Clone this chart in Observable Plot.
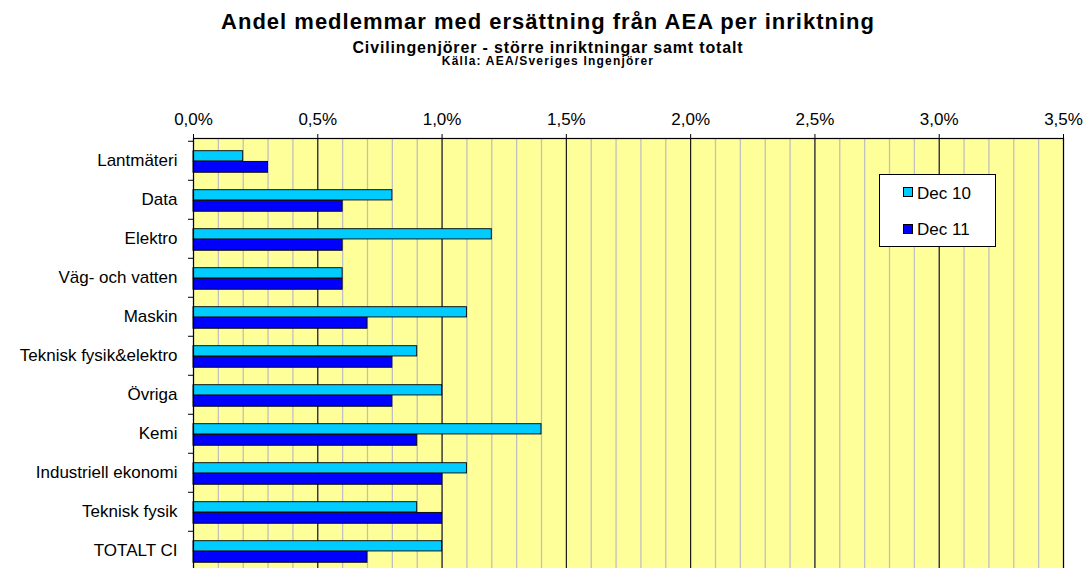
<!DOCTYPE html>
<html>
<head>
<meta charset="utf-8">
<script src="https://cdn.jsdelivr.net/npm/d3@7"></script>
<script src="https://cdn.jsdelivr.net/npm/@observablehq/plot@0.6"></script>
<style>
  html, body { margin: 0; padding: 0; background: #fff; overflow: hidden; }
  body { font-family: "Liberation Sans", Arial, sans-serif; width: 1085px; height: 568px; position: relative; }
  .hdr { position: absolute; left: 0; width: 1094px; text-align: center; font-weight: bold; color: #000; white-space: nowrap; line-height: 1; }
  #t1 { top: 11px; font-size: 22px; letter-spacing: 1px; padding-left: 1px; }
  #t2 { top: 40px; font-size: 16px; letter-spacing: 0.85px; padding-left: 1px; }
  #t3 { top: 55px; font-size: 12px; letter-spacing: 1.2px; padding-left: 1px; }
  #chart { position: absolute; left: 0; top: 64px; }
  #legend { position: absolute; left: 879px; top: 174px; width: 115px; height: 71px; border: 1px solid #000; background: #fff; }
  .li { position: absolute; left: 37px; font-size: 17px; line-height: 17px; color: #000; white-space: nowrap; }
  .sw { position: absolute; left: 23px; width: 8px; height: 8px; border: 1px solid #000; }
</style>
</head>
<body>
<div class="hdr" id="t1">Andel medlemmar med ersättning från AEA per inriktning</div>
<div class="hdr" id="t2">Civilingenjörer - större inriktningar samt totalt</div>
<div class="hdr" id="t3">Källa: AEA/Sveriges Ingenjörer</div>
<div id="chart"></div>
<div id="legend"></div>
<script>
const categories = ["Lantmäteri", "Data", "Elektro", "Väg- och vatten", "Maskin", "Teknisk fysik&elektro", "Övriga", "Kemi", "Industriell ekonomi", "Teknisk fysik", "TOTALT CI"];
const seriesNames = ["Dec 10", "Dec 11"];
const dec10 = [0.002, 0.008, 0.012, 0.006, 0.011, 0.009, 0.010, 0.014, 0.011, 0.009, 0.010];
const dec11 = [0.003, 0.006, 0.006, 0.006, 0.007, 0.008, 0.008, 0.009, 0.010, 0.010, 0.007];
const majorTicks = [0, 0.005, 0.010, 0.015, 0.020, 0.025, 0.030, 0.035];
const minorTicks = d3.range(0, 36).map(i => i / 1000);
const colors = ["#00CCFF", "#0000FF"];

const d10 = categories.map((c, i) => ({cat: c, v: dec10[i]}));
const d11 = categories.map((c, i) => ({cat: c, v: dec11[i]}));

const H = 520, MT = 74, MB = 12;
const bw = (H - MT - MB) / categories.length;
const fmt = d => (d * 100).toFixed(1).replace(".", ",") + "%";

const chart = Plot.plot({
  width: 1085,
  height: H,
  marginTop: MT,
  marginBottom: MB,
  marginLeft: 193,
  marginRight: 22,
  style: {fontFamily: "'Liberation Sans', Arial, sans-serif", fontSize: "17px", color: "#000", background: "transparent"},
  x: {domain: [0, 0.035], axis: null},
  y: {domain: categories, padding: 0, axis: null},
  marks: [
    Plot.frame({fill: "#FFFF99"}),
    Plot.ruleX(minorTicks, {stroke: "#c0c0c0", strokeWidth: 1.3}),
    Plot.ruleX(majorTicks, {stroke: "#000", strokeWidth: 1}),
    Plot.barX(d10, {x: "v", y: "cat", fill: colors[0], stroke: "#000", strokeWidth: 0.9, insetTop: 9.7, insetBottom: bw - 20.4}),
    Plot.barX(d11, {x: "v", y: "cat", fill: colors[1], stroke: "#000", strokeWidth: 0.9, insetTop: 20.4, insetBottom: bw - 31.7}),
    Plot.frame({stroke: "#000", strokeWidth: 1.2}),
    Plot.ruleY(categories, {y: d => d, x1: 0, x2: 0, insetLeft: -5, stroke: "#000", dy: -bw / 2}),
    Plot.axisX(majorTicks, {anchor: "top", tickSize: 5, tickPadding: 9, tickFormat: fmt, label: null, fontSize: 17}),
    Plot.axisY({tickSize: 0, tickPadding: 16, label: null, fontSize: 17, textAnchor: "end", letterSpacing: 0.55})
  ]
});
document.getElementById("chart").appendChild(chart);

const lg = document.getElementById("legend");
seriesNames.forEach((s, i) => {
  const sw = document.createElement("div");
  sw.className = "sw";
  sw.style.top = (i === 0 ? 12 : 49) + "px";
  sw.style.background = colors[i];
  lg.appendChild(sw);
  const el = document.createElement("div");
  el.className = "li";
  el.style.top = (i === 0 ? 10 : 46) + "px";
  el.textContent = s;
  lg.appendChild(el);
});
</script>
</body>
</html>
